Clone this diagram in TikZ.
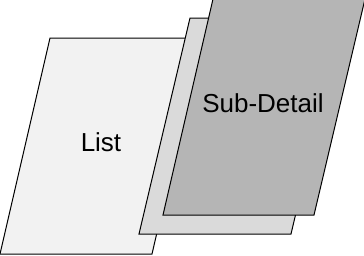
\documentclass[tikz,border=0pt]{standalone}
\usepackage{fontspec}
\setmainfont{Liberation Sans}
\usepackage{tikz}

\definecolor{listgray}{HTML}{F2F2F2}
\definecolor{midgray}{HTML}{DADADA}
\definecolor{subgray}{HTML}{B5B5B5}

\begin{document}
\begin{tikzpicture}[
  x=1pt, y=-1pt,
  page/.style={draw=black, line width=1pt, line join=miter},
  lbl/.style={font=\fontsize{26}{30}\selectfont, inner sep=0pt}
]
\useasboundingbox (0,0) rectangle (364,255);

% back sheet
\filldraw[page, fill=listgray] (50,38) -- (202,38) -- (152,254) -- (0,254) -- cycle;
\node[lbl] (list) at (101,142) {List};

% middle sheet
\filldraw[page, fill=midgray] (190,18) -- (342,18) -- (291,234) -- (139,234) -- cycle;

% front sheet
\filldraw[page, fill=subgray] (213,-1) -- (365,-1) -- (314,215) -- (163,215) -- cycle;
\node[lbl] (sub) at (263,103) {Sub-Detail};
\end{tikzpicture}
\end{document}
